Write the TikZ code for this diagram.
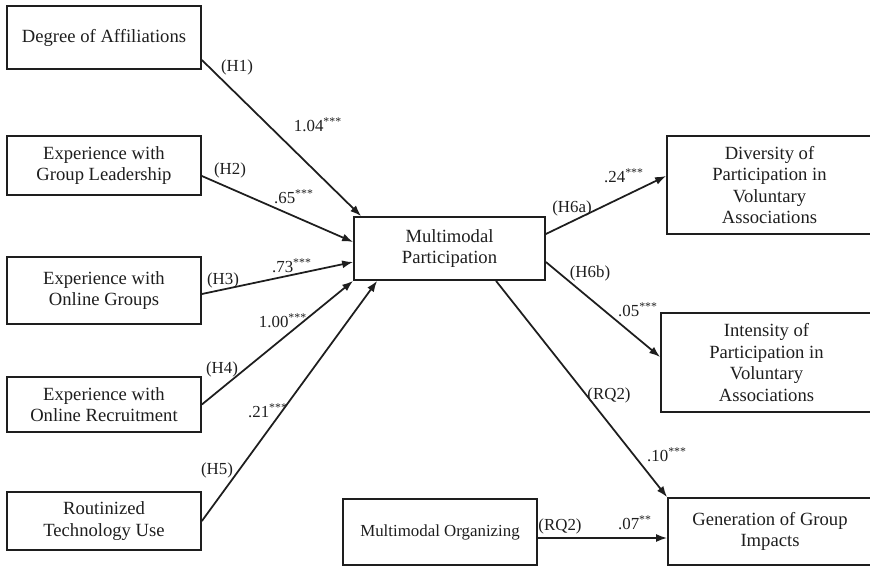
\documentclass[tikz,border=0pt]{standalone}
\usepackage{fontspec}
\setmainfont{Liberation Serif}
\usepackage{xcolor}
\usetikzlibrary{arrows.meta}
\definecolor{inkColor}{RGB}{30, 30, 30}

\begin{document}
\begin{tikzpicture}[
    box/.style={rectangle, draw=inkColor, text=inkColor, line width=1pt, align=center, inner sep=2pt, font=\fontsize{10.6}{12.3}\selectfont},
    lbl/.style={text=inkColor, inner sep=0pt, font=\fontsize{9.6}{11}\selectfont},
    link/.style={draw=inkColor, line width=1pt, -{Latex[length=2.2mm, width=1.6mm]}}
]
    \useasboundingbox (0,0) rectangle (17.4,11.36);

    % Predictors
    \node[box, minimum width=3.88cm, minimum height=1.26cm] (aff) at (2.08,10.61) {Degree of Affiliations};
    \node[box, minimum width=3.88cm, minimum height=1.18cm] (lead) at (2.08,8.05) {Experience with\\Group Leadership};
    \node[box, minimum width=3.88cm, minimum height=1.34cm] (grp) at (2.08,5.55) {Experience with\\Online Groups};
    \node[box, minimum width=3.88cm, minimum height=1.1cm] (recr) at (2.08,3.27) {Experience with\\Online Recruitment};
    \node[box, minimum width=3.88cm, minimum height=1.16cm] (tech) at (2.08,0.94) {Routinized\\Technology Use};

    % Mediator
    \node[box, minimum width=3.82cm, minimum height=1.26cm] (mp) at (8.99,6.39) {Multimodal\\Participation};

    % Outcomes
    \node[box, minimum width=4.1cm, minimum height=1.96cm] (div) at (15.39,7.66) {Diversity of\\Participation in\\Voluntary\\Associations};
    \node[box, minimum width=4.22cm, minimum height=1.98cm] (int) at (15.33,4.11) {Intensity of\\Participation in\\Voluntary\\Associations};
    \node[box, minimum width=4.08cm, minimum height=1.34cm] (gen) at (15.4,0.73) {Generation of Group\\Impacts};
    \node[box, minimum width=3.88cm, minimum height=1.32cm, font=\fontsize{9.6}{11}\selectfont] (org) at (8.8,0.72) {Multimodal Organizing};

    % Paths
    \draw[link] ([yshift=-0.45cm]aff.east) -- ([xshift=0.16cm]mp.north west);
    \draw[link] ([yshift=-0.21cm]lead.east) -- ([yshift=0.13cm]mp.west);
    \draw[link] ([yshift=-0.07cm]grp.east) -- ([yshift=-0.27cm]mp.west);
    \draw[link] (recr.east) -- (mp.south west);
    \draw[link] (tech.east) -- ([xshift=0.48cm]mp.south west);
    \draw[link] ([yshift=0.29cm]mp.east) -- ([yshift=0.18cm]div.west);
    \draw[link] ([yshift=-0.27cm]mp.east) -- ([yshift=0.11cm]int.west);
    \draw[link] ([xshift=0.93cm]mp.south) -- (gen.north west);
    \draw[link] ([yshift=-0.12cm]org.east) -- ([yshift=-0.12cm]org.east -| gen.west);

    % Hypothesis labels and coefficients
    \node[lbl] (h1) at (4.74,10.02) {(H1)};
    \node[lbl] (c1) at (6.36,8.86) {1.04\textsuperscript{***}};
    \node[lbl] (h2) at (4.60,7.96) {(H2)};
    \node[lbl] (c2) at (5.88,7.42) {.65\textsuperscript{***}};
    \node[lbl] (h3) at (4.46,5.76) {(H3)};
    \node[lbl] (c3) at (5.84,6.04) {.73\textsuperscript{***}};
    \node[lbl] (c4) at (5.66,4.94) {1.00\textsuperscript{***}};
    \node[lbl] (h4) at (4.44,3.98) {(H4)};
    \node[lbl] (c5) at (5.36,3.14) {.21\textsuperscript{***}};
    \node[lbl] (h5) at (4.34,1.96) {(H5)};
    \node[lbl] (h6a) at (11.44,7.20) {(H6a)};
    \node[lbl] (c6a) at (12.48,7.84) {.24\textsuperscript{***}};
    \node[lbl] (h6b) at (11.80,5.90) {(H6b)};
    \node[lbl] (c6b) at (12.76,5.16) {.05\textsuperscript{***}};
    \node[lbl] (rq2a) at (12.18,3.46) {(RQ2)};
    \node[lbl] (c7) at (13.34,2.26) {.10\textsuperscript{***}};
    \node[lbl] (rq2b) at (11.20,0.84) {(RQ2)};
    \node[lbl] (c8) at (12.70,0.90) {.07\textsuperscript{**}};
\end{tikzpicture}
\end{document}
